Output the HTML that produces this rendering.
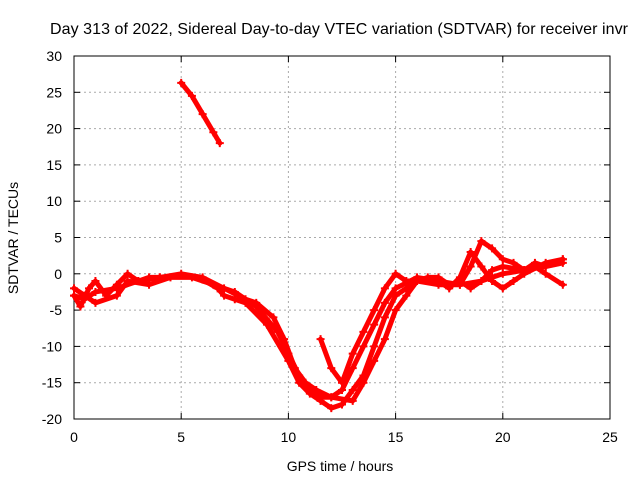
<!DOCTYPE html>
<html><head><meta charset="utf-8"><style>
body{margin:0;background:#fff;}
svg text{font-family:"Liberation Sans",sans-serif;font-size:14px;fill:#000;}
</style></head><body>
<svg id="chart" width="640" height="480">
<g id="grid"></g>
<rect x="74" y="56" width="536" height="363" fill="none" stroke="#000"/>
<g id="ticks"></g>
<g id="series"></g>
<text x="339" y="34" text-anchor="middle" style="font-size:16px" textLength="578">Day 313 of 2022, Sidereal Day-to-day VTEC variation (SDTVAR) for receiver invr</text>
<text x="340" y="471" text-anchor="middle">GPS time / hours</text>
<text transform="translate(18,238) rotate(-90)" text-anchor="middle">SDTVAR / TECUs</text>
</svg>
<script>
const xTicks=[0,5,10,15,20,25];
const yTicks=[-20,-15,-10,-5,0,5,10,15,20,25,30];
const s1x=[5.0,5.5,6.0,6.5,6.8];
const s1y=[26.3,24.5,22,19.5,18];
const s2x=[0,0.3,0.7,1,1.5,2,2.5,3,3.5,4,5,6,6.7,7,7.5,8,9,10,10.5,11,11.5,12,12.5,13,13.5,14,14.5,15,15.5,16,17,18,19,19.5,20,21,22,22.8];
const s2y=[-3,-4.5,-2,-1,-3,-1.5,0,-1,-0.5,-0.5,-0.2,-0.8,-2,-3,-3.5,-4,-7,-12,-15,-16.5,-17.5,-18.5,-18,-16,-14,-10,-6,-3,-2,-1,-1,-1.5,-1,0.5,1,0.5,1,1.5];
const s3x=[0,0.5,1,2,2.5,3.5,4.5,5.5,6.5,7.5,8.5,9.5,10,10.5,11,11.5,12,12.5,13,13.5,14,14.5,15,16,17,17.5,18,18.5,19,19.5,20,20.5,21,22,22.8];
const s3y=[-2,-3,-4,-3,-1,-1.5,-0.5,-0.5,-1.5,-2.5,-4.5,-8,-11,-14,-16,-17,-17,-16,-13,-10,-7,-4,-2,-0.5,-1,-2,-0.5,3,1,-1,-2,-1,0,1.5,2];
const s4x=[0,0.5,1,2,3,4,5,6,7,8,8.5,9.3,9.8,10.3,10.8,11.3,12,13,13.5,14,14.5,15,15.5,16,16.5,17,17.5,18,18.5,19,19.5,20,21,21.5,22,22.8];
const s4y=[-3,-3.5,-2.5,-2,-1,-0.5,0,-0.5,-2,-3.5,-4,-6,-9,-13,-15,-16,-17,-17.5,-15,-12,-9,-5,-3,-1,-0.5,-0.5,-1.5,-1,-2,-1,-0.5,0,0.5,1.5,1,2];
const s5x=[11.5,12,12.5,13,13.5,14,14.5,15,15.5,16,17,18,18.5,19,19.5,20,20.5,21,21.5,22,22.8];
const s5y=[-9,-13,-15,-11,-8,-5,-2,0,-1,-1,-1.5,-1.5,1,4.5,3.5,2,1.5,0.5,1,0,-1.5];
const X=v=>74+v*536/25, Y=v=>419-(v+20)*363/50;
const NS="http://www.w3.org/2000/svg";
const mk=(t,a,p)=>{const e=document.createElementNS(NS,t);for(const k in a)e.setAttribute(k,a[k]);p.appendChild(e);return e;};
const grid=document.getElementById('grid'),ticks=document.getElementById('ticks'),ser=document.getElementById('series');
xTicks.forEach(t=>{
 if(t>0&&t<25){const g=mk('line',{x1:X(t),x2:X(t),y1:56,y2:419,stroke:'#aaa','stroke-dasharray':'2,3'},grid);
 
 }
 mk('line',{x1:X(t),x2:X(t),y1:419,y2:413,stroke:'#000'},ticks);
 mk('line',{x1:X(t),x2:X(t),y1:56,y2:62,stroke:'#000'},ticks);
 const l=mk('text',{x:X(t),y:442,'text-anchor':'middle'},ticks);l.textContent=t;
 
 
});
yTicks.forEach(t=>{
 if(t>-20&&t<30){const g=mk('line',{x1:74,x2:610,y1:Y(t),y2:Y(t),stroke:'#aaa','stroke-dasharray':'2,3'},grid);
 
 }
 mk('line',{x1:74,x2:80,y1:Y(t),y2:Y(t),stroke:'#000'},ticks);
 mk('line',{x1:604,x2:610,y1:Y(t),y2:Y(t),stroke:'#000'},ticks);
 const l=mk('text',{x:62,y:Y(t)+5,'text-anchor':'end'},ticks);l.textContent=t;
 
 
});
[[s1x,s1y],[s2x,s2y],[s3x,s3y],[s4x,s4y],[s5x,s5y]].forEach((s,i)=>{
 const pts=s[0].map((x,j)=>X(x)+','+Y(s[1][j])).join(' ');
 const p=mk('polyline',{points:pts,fill:'none',stroke:'#f00','stroke-width':5,'stroke-linejoin':'round','stroke-linecap':'round'},ser);
 
 
 s[0].forEach((x,j)=>{const cx=X(x),cy=Y(s[1][j]);
  const c=mk('path',{d:`M${cx-4},${cy}H${cx+4}M${cx},${cy-4}V${cy+4}`,stroke:'#f00','stroke-width':2},ser);
  
  });
});
</script>
</body></html>
